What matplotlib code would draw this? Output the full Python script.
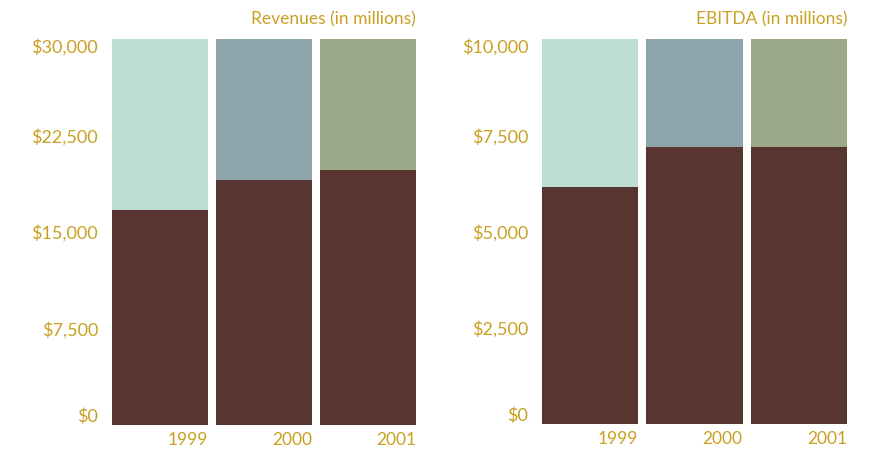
import matplotlib
matplotlib.use('Agg')
import matplotlib.pyplot as plt

years = ['1999', '2000', '2001']
revenues = [16700, 19050, 19800]
revenue_max = 30000
revenue_ticks = [0, 7500, 15000, 22500, 30000]

ebitda = [6150, 7200, 7200]
ebitda_max = 10000
ebitda_ticks = [0, 2500, 5000, 7500, 10000]

bg_colors = ['#bfded2', '#8ea6ab', '#9ca989']
fg_color = '#583530'
gold = '#c9a023'

plt.rcParams['font.family'] = ['Lato', 'DejaVu Sans']

fig = plt.figure(figsize=(8.76, 4.5), dpi=100)
ax1 = fig.add_axes([112/876, 1-425/450, 304/876, 386/450])
ax2 = fig.add_axes([542/876, 1-424/450, 305/876, 385/450])


def panel(ax, values, vmax, ticks, title):
    x = range(len(values))
    ax.bar(x, [vmax]*len(values), width=0.923, color=bg_colors)
    ax.bar(x, values, width=0.923, color=fg_color)
    ax.set_xlim(-0.4615, len(values) - 1 + 0.4615)
    ax.set_ylim(0, vmax)
    for s in ax.spines.values():
        s.set_visible(False)
    ax.set_xticks([])
    ax.set_yticks(ticks)
    ax.set_yticklabels(['${:,}'.format(t) for t in ticks])
    ax.tick_params(axis='y', length=0, pad=10, labelsize=13, labelcolor=gold)
    labels = ax.get_yticklabels()
    labels[0].set_va('bottom')
    labels[-1].set_va('top')
    for i, yr in enumerate(years):
        ax.annotate(yr, (i + 0.4615, 0), xytext=(0, -5), textcoords='offset points',
                    ha='right', va='top', color=gold, fontsize=12.5)
    ax.annotate(title, (len(values) - 1 + 0.4615, vmax), xytext=(0, 8),
                textcoords='offset points', ha='right', va='bottom',
                color=gold, fontsize=12.5)


panel(ax1, revenues, revenue_max, revenue_ticks, 'Revenues (in millions)')
panel(ax2, ebitda, ebitda_max, ebitda_ticks, 'EBITDA (in millions)')

fig.savefig('out.png', dpi=100)
